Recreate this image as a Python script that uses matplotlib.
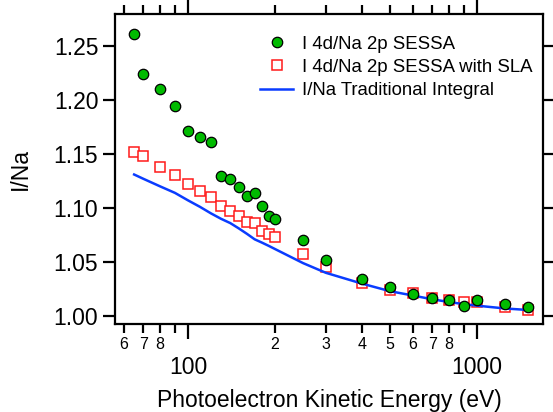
import numpy as np
import matplotlib
matplotlib.use('Agg')
from matplotlib import pyplot as plt
from matplotlib.ticker import FixedLocator, FuncFormatter

plt.rcParams['font.family'] = ['Liberation Sans', 'DejaVu Sans']

# kinetic energies (eV)
energy = [65, 70, 80, 90, 100, 110, 120, 130, 140, 150, 160, 170, 180, 190, 200,
          250, 300, 400, 500, 600, 700, 800, 900, 1000, 1250, 1500]
# I 4d / Na 2p from SESSA
sessa = [1.261, 1.224, 1.210, 1.194, 1.171, 1.166, 1.161, 1.130, 1.127, 1.119,
         1.111, 1.114, 1.102, 1.093, 1.090, 1.070, 1.052, 1.034, 1.027, 1.020,
         1.017, 1.015, 1.009, 1.015, 1.011, 1.008]
# same with straight-line approximation
sessa_sla = [1.152, 1.148, 1.138, 1.131, 1.122, 1.116, 1.110, 1.102, 1.097, 1.093,
             1.087, 1.086, 1.079, 1.076, 1.073, 1.057, 1.045, 1.031, 1.024, 1.021,
             1.017, 1.015, 1.013, 1.013, 1.008, 1.006]
# traditional integral
trad = [1.131, 1.127, 1.120, 1.114, 1.107, 1.101, 1.095, 1.090, 1.086, 1.081,
        1.076, 1.071, 1.068, 1.065, 1.062, 1.049, 1.040, 1.030, 1.023, 1.019,
        1.0155, 1.013, 1.011, 1.0096, 1.007, 1.0056]

fig = plt.figure(figsize=(5.53, 4.12), dpi=100)
ax = fig.add_axes([115/553, 1-324/412, 428/553, 310/412])

ax.plot(energy, sessa_sla, 's', ms=7, mfc='white', mec='#ff1a1a', mew=1.1,
        zorder=2, label='I 4d/Na 2p SESSA with SLA')
ax.plot(energy, trad, '-', color='#0a3cff', lw=1.8, zorder=3,
        label='I/Na Traditional Integral')
ax.plot(energy, sessa, 'o', ms=7.5, mfc='#00bb00', mec='black', mew=0.9,
        zorder=4, label='I 4d/Na 2p SESSA')

ax.set_xscale('log')
ax.set_xlim(55.8, 1696)
ax.set_ylim(0.9926, 1.2796)
ax.set_yticks([1.00, 1.05, 1.10, 1.15, 1.20, 1.25])
ax.yaxis.set_major_formatter(FuncFormatter(lambda v, p: '%.2f' % v))

ax.xaxis.set_major_locator(FixedLocator([100, 1000]))
minors = [60, 70, 80, 90, 200, 300, 400, 500, 600, 700, 800, 900, 2000]
ax.xaxis.set_minor_locator(FixedLocator(minors))
ax.xaxis.set_major_formatter(FuncFormatter(lambda v, p: '%d' % v))

def minor_label(v, p):
    d = int(round(v / 10 ** np.floor(np.log10(v))))
    return '' if d == 9 else str(d)
ax.xaxis.set_minor_formatter(FuncFormatter(minor_label))

for s in ax.spines.values():
    s.set_linewidth(1.6)
ax.tick_params(which='both', direction='out', top=True, right=True, width=1.6)
ax.tick_params(axis='x', which='major', length=11, labelsize=16.5, pad=12)
ax.tick_params(axis='x', which='minor', length=6.5, labelsize=11.5, pad=3)
ax.tick_params(axis='y', which='major', length=9, labelsize=16.5, pad=3)
ax.tick_params(axis='y', which='minor', length=0)
ax.tick_params(labeltop=False, labelright=False)

ax.set_xlabel('Photoelectron Kinetic Energy (eV)', fontsize=16.5, labelpad=7)
ax.set_ylabel('I/Na', fontsize=16.5, labelpad=16)

h, l = ax.get_legend_handles_labels()
order = [2, 0, 1]
ax.legend([h[i] for i in order], [l[i] for i in order], frameon=False,
          fontsize=13.4, loc='upper left', bbox_to_anchor=(0.339, 0.93),
          borderpad=0, borderaxespad=0, handlelength=1.77,
          handletextpad=0.48, labelspacing=0.33)

fig.savefig('out.png', dpi=100)
